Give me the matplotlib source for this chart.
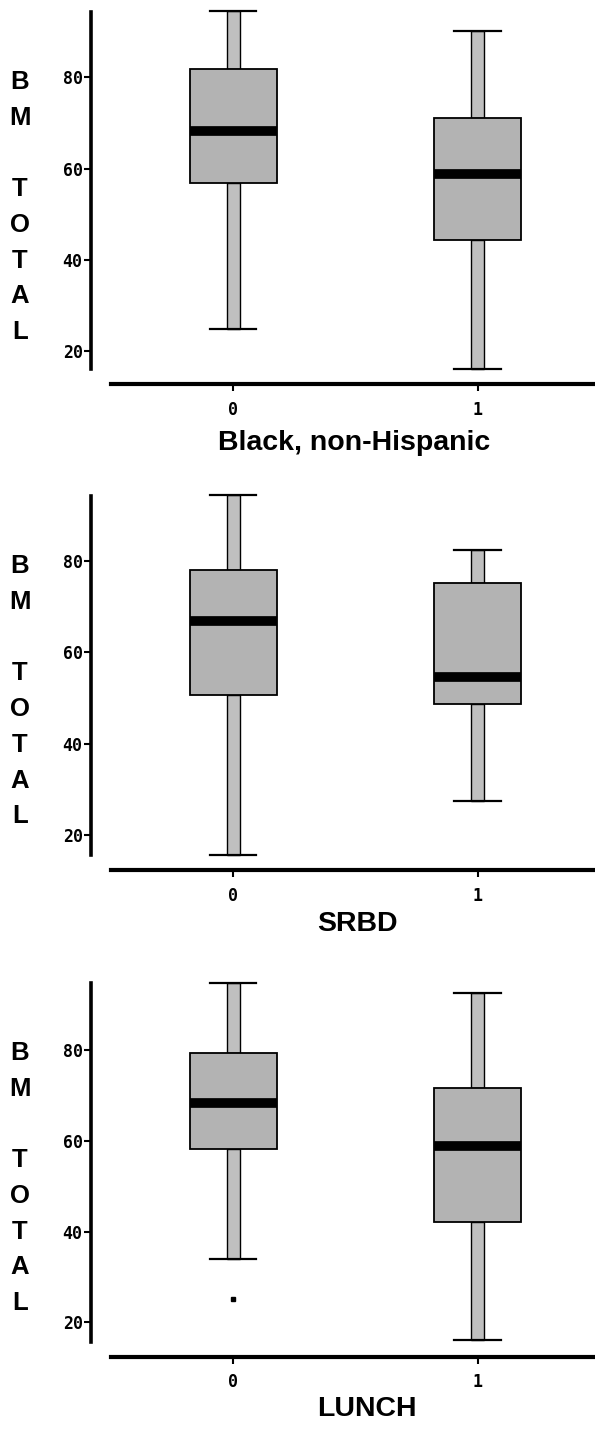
import matplotlib
matplotlib.use("Agg")
import matplotlib.pyplot as plt

# ---- data ----
groups = ["0", "1"]
panel_labels = ["Black, non-Hispanic", "SRBD", "LUNCH"]
y_ticks = [20, 40, 60, 80]
ylabel_letters = ["B", "M", "", "T", "O", "T", "A", "L"]

whislo = [[24.8, 16.1], [15.7, 27.4], [33.9, 16.1]]
q1     = [[56.9, 44.3], [50.7, 48.6], [58.1, 42.2]]
med    = [[68.2, 58.9], [66.9, 54.6], [68.4, 58.9]]
q3     = [[81.8, 71.1], [77.9, 75.1], [79.3, 71.6]]
whishi = [[94.5, 90.2], [94.4, 82.3], [94.8, 92.5]]
fliers = [[[], []], [[], []], [[25.1], []]]

# ---- layout ----
W, H = 595, 1430
fig = plt.figure(figsize=(W / 100, H / 100), dpi=100)

panel_top_px = [11.7, 496.0, 983.0]
panel_bot_px = [369.3, 855.0, 1341.7]
ylims = [(16.0, 94.4), (15.6, 94.2), (15.7, 94.8)]
xlabel_x = [0.502, 0.51, 0.529]
xlabel_y = [-0.17, -0.155, -0.152]
left_px = 111

BOX_COLOR = "#b3b3b3"
WHISK_COLOR = "#bfbfbf"

for p in range(3):
    top, bot = panel_top_px[p], panel_bot_px[p]
    ax = fig.add_axes([left_px / W, 1 - bot / H, (W - left_px) / W, (bot - top) / H])
    positions = list(range(len(groups)))

    # whiskers as thick grey bars
    for i, pos in enumerate(positions):
        ax.bar(pos, whishi[p][i] - q3[p][i], bottom=q3[p][i], width=0.052,
               color=WHISK_COLOR, edgecolor="black", linewidth=1.0, zorder=2,
               clip_on=False)
        ax.bar(pos, q1[p][i] - whislo[p][i], bottom=whislo[p][i], width=0.052,
               color=WHISK_COLOR, edgecolor="black", linewidth=1.0, zorder=2,
               clip_on=False)

    stats = []
    for i in range(len(groups)):
        stats.append(dict(med=med[p][i], q1=q1[p][i], q3=q3[p][i],
                          whislo=whislo[p][i], whishi=whishi[p][i],
                          fliers=fliers[p][i]))
    art = ax.bxp(stats, positions=positions, widths=0.355, capwidths=0.19,
                 patch_artist=True, manage_ticks=False,
                 boxprops=dict(facecolor=BOX_COLOR, edgecolor="black", linewidth=1.3),
                 medianprops=dict(color="black", linewidth=7, solid_capstyle="butt"),
                 whiskerprops=dict(linewidth=0),
                 capprops=dict(color="black", linewidth=1.6),
                 flierprops=dict(marker="s", markersize=3.5, markerfacecolor="black",
                                 markeredgecolor="black"),
                 zorder=3)
    for k in art:
        for a in art[k]:
            a.set_clip_on(False)

    ax.set_xlim(-0.5, 1.48)
    ax.set_ylim(*ylims[p])
    ax.set_yticks(y_ticks)
    ax.set_yticklabels([str(t) for t in y_ticks])
    ax.set_xticks(positions)
    ax.set_xticklabels(groups)

    ax.spines["top"].set_visible(False)
    ax.spines["right"].set_visible(False)
    ax.spines["left"].set_position(("outward", 14.4))
    ax.spines["bottom"].set_position(("outward", 10.8))
    ax.spines["left"].set_linewidth(2.6)
    ax.spines["bottom"].set_linewidth(3.0)
    ax.tick_params(axis="y", direction="out", length=5, width=1.5, pad=1, labelsize=12)
    ax.tick_params(axis="x", direction="out", length=5, width=1.5, pad=7, labelsize=12)
    for lab in ax.get_xticklabels() + ax.get_yticklabels():
        lab.set_fontfamily("DejaVu Sans Mono")
        lab.set_fontweight("bold")
    ax.patch.set_visible(False)

    ax.set_xlabel(panel_labels[p], fontsize=20.5, fontweight="bold",
                  family="Liberation Sans")
    ax.xaxis.set_label_coords(xlabel_x[p], xlabel_y[p])

    # stacked y-label letters
    for row, letter in enumerate(ylabel_letters):
        if not letter:
            continue
        ypx = top + 70.3 + row * 35.7
        fig.text(20 / W, 1 - ypx / H, letter, ha="center", va="center",
                 fontsize=18.5, fontweight="bold", family="Liberation Sans")

fig.savefig("out.png", dpi=100)
